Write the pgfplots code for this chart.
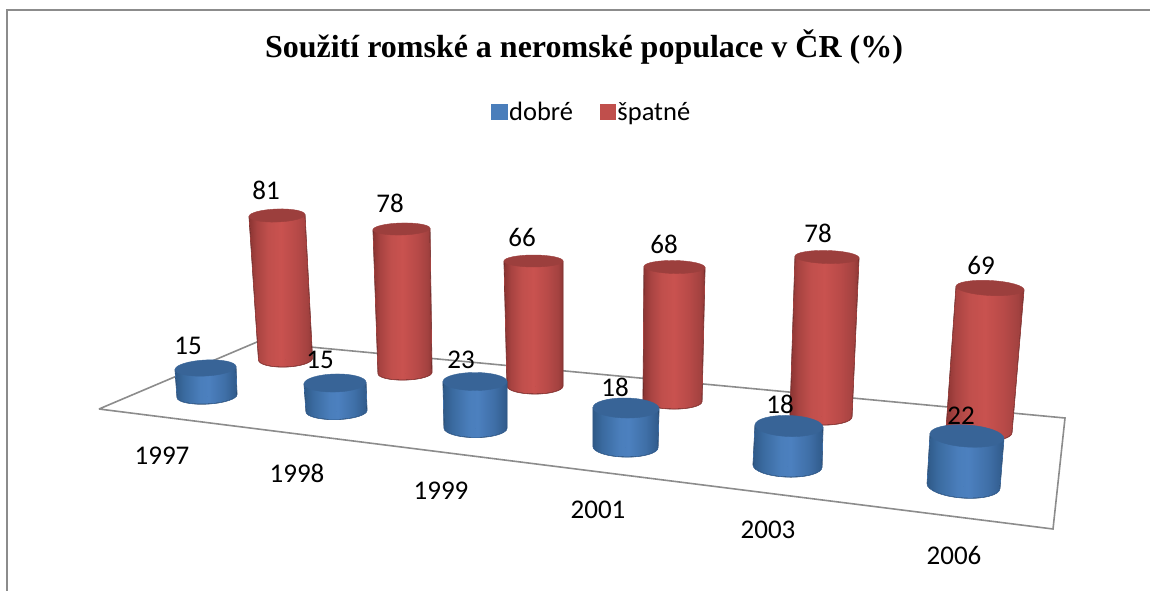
\documentclass[border=0pt]{standalone}
\usepackage{pgfplots}
\usepackage{pgfplotstable}
\pgfplotsset{compat=1.18}
\usepackage{fontspec}
\setmainfont{Carlito}
\newfontfamily\titlefont{Liberation Serif}
\definecolor{ra}{HTML}{8A3432}\definecolor{rb}{HTML}{A84341}\definecolor{rc}{HTML}{C04F4C}\definecolor{rd}{HTML}{C9524F}\definecolor{re}{HTML}{B84A48}\definecolor{rf}{HTML}{A34240}\definecolor{rg}{HTML}{8E3735}
\definecolor{ba}{HTML}{2F5987}\definecolor{bb}{HTML}{3A6A9F}\definecolor{bc}{HTML}{4A7EBB}\definecolor{bd}{HTML}{4C80BF}\definecolor{be}{HTML}{3F6FA7}\definecolor{bf}{HTML}{305A8A}
\definecolor{redtop}{HTML}{9C3F3D}\definecolor{bluetop}{HTML}{386497}
\definecolor{framegray}{HTML}{8C8C8C}
\pgfdeclarehorizontalshading{redcyl}{100bp}{color(0bp)=(ra);color(25bp)=(ra);color(31bp)=(rb);color(40bp)=(rc);color(50bp)=(rd);color(62bp)=(re);color(71bp)=(rf);color(75bp)=(rg);color(100bp)=(rg)}
\pgfdeclarehorizontalshading{bluecyl}{100bp}{color(0bp)=(ba);color(25bp)=(ba);color(32bp)=(bb);color(45bp)=(bc);color(52bp)=(bd);color(65bp)=(be);color(75bp)=(bf);color(100bp)=(bf)}
% year value bx by dx h rb rt ryb ryt a  (cylinders in picture pixels)
\pgfplotstableread{
year val bx by dx h rb rt ryb ryt a
1997 81 285.5 359 -8.5 143.5 27 28 8 6.5 2
1998 78 405 373 -3.5 144 27 28.5 7 6 1.5
1999 66 535 386 -1.5 125 28 29.5 8 6 0
2001 68 672.5 401 2 134 29.5 30.5 8 6.5 -1
2003 78 821 416 6 159 31 32 9 6.5 -1.5
2006 69 979 431 11 143 33 34 10 7.5 -3
}\spatne
\pgfplotstableread{
year val bx by dx h rb rt ryb ryt a
1997 15 207 396 -1.5 28 30 30.5 8 8 3
1998 15 336.5 411 -1.5 28 30.5 31 8.5 9 1.5
1999 23 475.5 428 -0.5 46.5 31.5 32 9.5 9 0
2001 18 625.5 447 0.5 39 32.5 33 10 10 -1
2003 18 787.5 466 1.5 40 34.5 34 11 10.5 -2
2006 22 963.5 486 3.5 50 36.5 37 12 11 -4
}\dobre
\pgfplotstableread{
x y t
266 190 81
390 203 78
522 237 66
664 244 68
818 233 78
981 265 69
188 346 15
320 360 15
461 360 23
615 387 18
780 404 18
961 416 22
162 456 1997
297 473 1998
441 491 1999
598 510 2001
768 530 2003
954 555 2006
}\labels
\newcommand\cylbody{%
  ({\cyla+180}:\cylrb pt) -- ([shift={(\cyldx pt,\cylh pt)}]{\cyla+180}:\cylrt pt) -- ([shift={(\cyldx pt,\cylh pt)}]\cyla:\cylrt pt) -- (\cyla:\cylrb pt)
  .. controls ([rotate=\cyla]\cylrb pt,{-0.5523*\cylryb*1pt}) and ([rotate=\cyla]{0.5523*\cylrb*1pt},{-\cylryb*1pt}) .. ([rotate=\cyla]0pt,{-\cylryb*1pt})
  .. controls ([rotate=\cyla]{-0.5523*\cylrb*1pt},{-\cylryb*1pt}) and ([rotate=\cyla]{-\cylrb*1pt},{-0.5523*\cylryb*1pt}) .. ({\cyla+180}:\cylrb pt) -- cycle}
\newcommand\drawcyl[3]{%
  \path[shading=#1] \cylbody;%
  \draw[#3, line width=0.7pt, line join=round] \cylbody;%
  \fill[#2] (\cyldx pt,\cylh pt) circle [x radius=\cylrt pt, y radius=\cylryt pt, rotate=\cyla];%
}
\pgfplotsset{
  cylplot/.style n args={3}{forget plot, scatter, only marks, mark=*, mark size=0pt,
    point meta=\thisrow{val},
    visualization depends on={\thisrow{dx} \as \cyldx},
    visualization depends on={\thisrow{h} \as \cylh},
    visualization depends on={\thisrow{rb} \as \cylrb},
    visualization depends on={\thisrow{rt} \as \cylrt},
    visualization depends on={\thisrow{ryb} \as \cylryb},
    visualization depends on={\thisrow{ryt} \as \cylryt},
    visualization depends on={\thisrow{a} \as \cyla},
    scatter/@pre marker code/.code={\drawcyl{#1}{#2}{#3}\scope},
    scatter/@post marker code/.code={\endscope}},
}
\begin{document}
\begin{tikzpicture}
\begin{axis}[
  scale only axis, width=1150pt, height=591pt,
  xmin=0, xmax=1150, ymin=0, ymax=591, y dir=reverse,
  axis line style={draw=none}, ticks=none,
  title={\titlefont\bfseries Soužití romské a neromské populace v ČR (\%)},
  title style={at={(axis cs:584,53)}, anchor=center, font=\fontsize{32}{34}\selectfont, inner sep=0pt},
  legend style={at={(axis cs:591.5,112)}, anchor=center, draw=none, fill=none, legend columns=2,
    font=\fontsize{26.5}{28}\selectfont,
    /tikz/every even column/.append style={column sep=25pt}},
  legend cell align=left,
]
\addplot[forget plot, draw=framegray, line width=2pt] coordinates {(7,591) (7,10) (1150,10)};
\addplot[forget plot, draw=framegray, line width=1.6pt, fill=white] coordinates {(99,409) (257,342) (1065,418) (1053,529) (99,409)};
\addplot[cylplot={redcyl}{redtop}{rf}] table[x=bx,y=by] {\spatne};
\addplot[cylplot={bluecyl}{bluetop}{be}] table[x=bx,y=by] {\dobre};
\addplot[forget plot, only marks, mark=*, mark size=0pt, point meta=explicit symbolic,
  nodes near coords, every node near coord/.style={anchor=center, inner sep=0pt, font=\fontsize{27}{28}\selectfont, text=black}]
  table[x=x,y=y,meta=t] {\labels};
\addlegendimage{legend image code/.code={\fill[bc] (-5pt,-7.5pt) rectangle (11pt,8pt);}}
\addlegendentry{dobré}
\addlegendimage{legend image code/.code={\fill[rc] (-7pt,-7.5pt) rectangle (8pt,8pt);}}
\addlegendentry{špatné}
\end{axis}
\end{tikzpicture}
\end{document}
